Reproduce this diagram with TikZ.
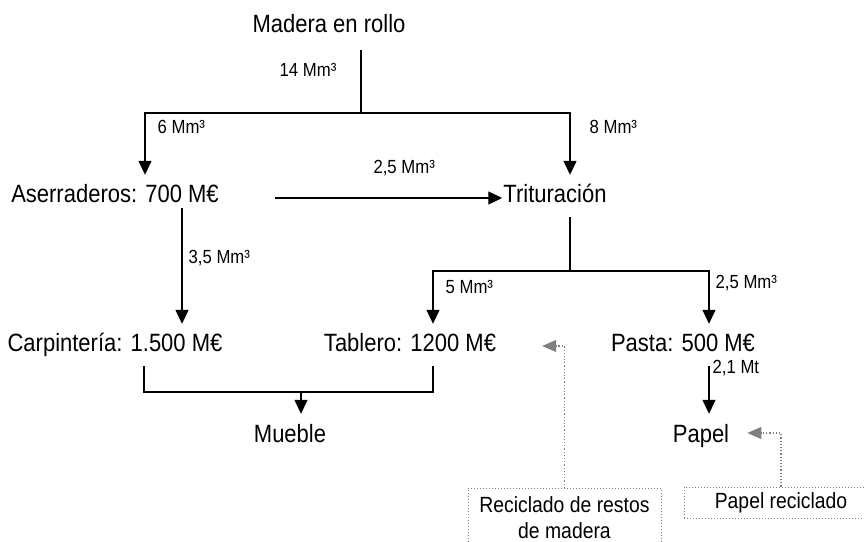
\documentclass[tikz,border=0pt]{standalone}
\usepackage{fontspec}
\setmainfont{Liberation Sans}[FakeStretch=0.88]
\usetikzlibrary{positioning,arrows.meta}

\begin{document}
\begin{tikzpicture}[x=1bp,y=-1bp,on grid,node distance=150bp]
    \tikzset{sector/.style={inner sep=0pt,text height=18bp,text depth=0pt,font=\fontsize{25bp}{30bp}\selectfont}}
    \tikzset{qty/.style={inner sep=0pt,font=\fontsize{19bp}{22bp}\selectfont}}
    \tikzset{trunk/.style={line width=1.3bp}}
    \tikzset{flow/.style={trunk,-{Triangle[length=14bp,width=13bp]}}}
    \tikzset{recycled/.style={color=gray,dotted,line width=1.2bp,-{Triangle[length=14bp,width=12bp]}}}
    \tikzset{recbox/.style={draw=gray,dotted,line width=1bp,align=center,font=\fontsize{22bp}{26bp}\selectfont}}
    \useasboundingbox (0,0) rectangle (864,542);
    \node[sector] (madera) at (329,24) {Madera en rollo};
    \node[sector] (aserr) [below left = 169bp and 214bp of madera] {Aserraderos: 700 M€};
    \node[sector] (trit) [right = 440bp of aserr] {Trituración};
    \node[sector] (carp) [below = 149bp of aserr] {Carpintería: 1.500 M€};
    \node[sector] (tablero) [right = 295bp of carp] {Tablero: 1200 M€};
    \node[sector] (pasta) [right = 273bp of tablero] {Pasta: 500 M€};
    \node[sector] (mueble) [below right = 91bp and 175bp of carp] {Mueble};
    \node[sector] (papel) [below right = 91bp and 18bp of pasta] {Papel};
    \node[recbox,anchor=north,minimum width=193bp,inner xsep=0pt,inner ysep=8bp] (recmad) at (564.5,488) {Reciclado de restos\\de madera};
    \node[recbox,minimum width=194bp,minimum height=31bp,inner sep=0pt] (papelrec) at (781,502.5) {Papel reciclado};
    % roundwood split
    \coordinate (f1) at (361,113);
    \draw[trunk,shorten <=17bp] (madera.south -| f1) -- node[qty,anchor=east,xshift=-24bp,pos=0.46] (q14) {14 Mm³} (f1);
    \draw[flow,shorten >=9bp] (f1) -| node[qty,anchor=west,xshift=12bp,pos=0.6] (q6) {6 Mm³} ([xshift=30bp]aserr.north);
    \draw[flow,shorten >=9bp] (f1) -| node[qty,anchor=west,xshift=19bp,pos=0.6] (q8) {8 Mm³} ([xshift=15bp]trit.north);
    \draw[flow,shorten >=1bp] ([xshift=160bp,yshift=-5bp]aserr.center) -- node[qty,pos=0.566,yshift=30bp] (q25a) {2,5 Mm³} ([yshift=-5bp]trit.west);
    \draw[flow,shorten <=6bp,shorten >=9bp] ([xshift=67bp]aserr.south) -- node[qty,anchor=west,xshift=6bp,pos=0.43] (q35) {3,5 Mm³} ([xshift=67bp]carp.north);
    % chipping split
    \coordinate (f2) at (570,271);
    \draw[trunk,shorten <=15bp] (trit.south -| f2) -- (f2);
    \draw[flow,shorten >=9bp] (f2) -| node[qty,anchor=west,xshift=12bp,pos=0.63] (q5) {5 Mm³} ([xshift=23bp]tablero.north);
    \draw[flow,shorten >=9bp] (f2) -| node[qty,anchor=west,xshift=6bp,pos=0.6] (q25b) {2,5 Mm³} ([xshift=26bp]pasta.north);
    % furniture
    \coordinate (f3) at (301,392);
    \draw[trunk] ([xshift=29bp,yshift=-15bp]carp.south) |- (f3) -| ([xshift=23bp,yshift=-15bp]tablero.south);
    \draw[flow,shorten >=10bp] (f3) -- (f3 |- mueble.north);
    \draw[flow,shorten <=15bp,shorten >=10bp] ([xshift=26bp]pasta.south) -- node[qty,anchor=west,xshift=3bp,pos=0.23] (q21) {2,1 Mt} ([xshift=8bp]papel.north);
    % recycling
    \draw[recycled,shorten >=46bp] (recmad.north) |- ([yshift=-4bp]tablero.east);
    \draw[recycled,shorten >=18bp] (papelrec.north) |- (papel.east);
\end{tikzpicture}
\end{document}
